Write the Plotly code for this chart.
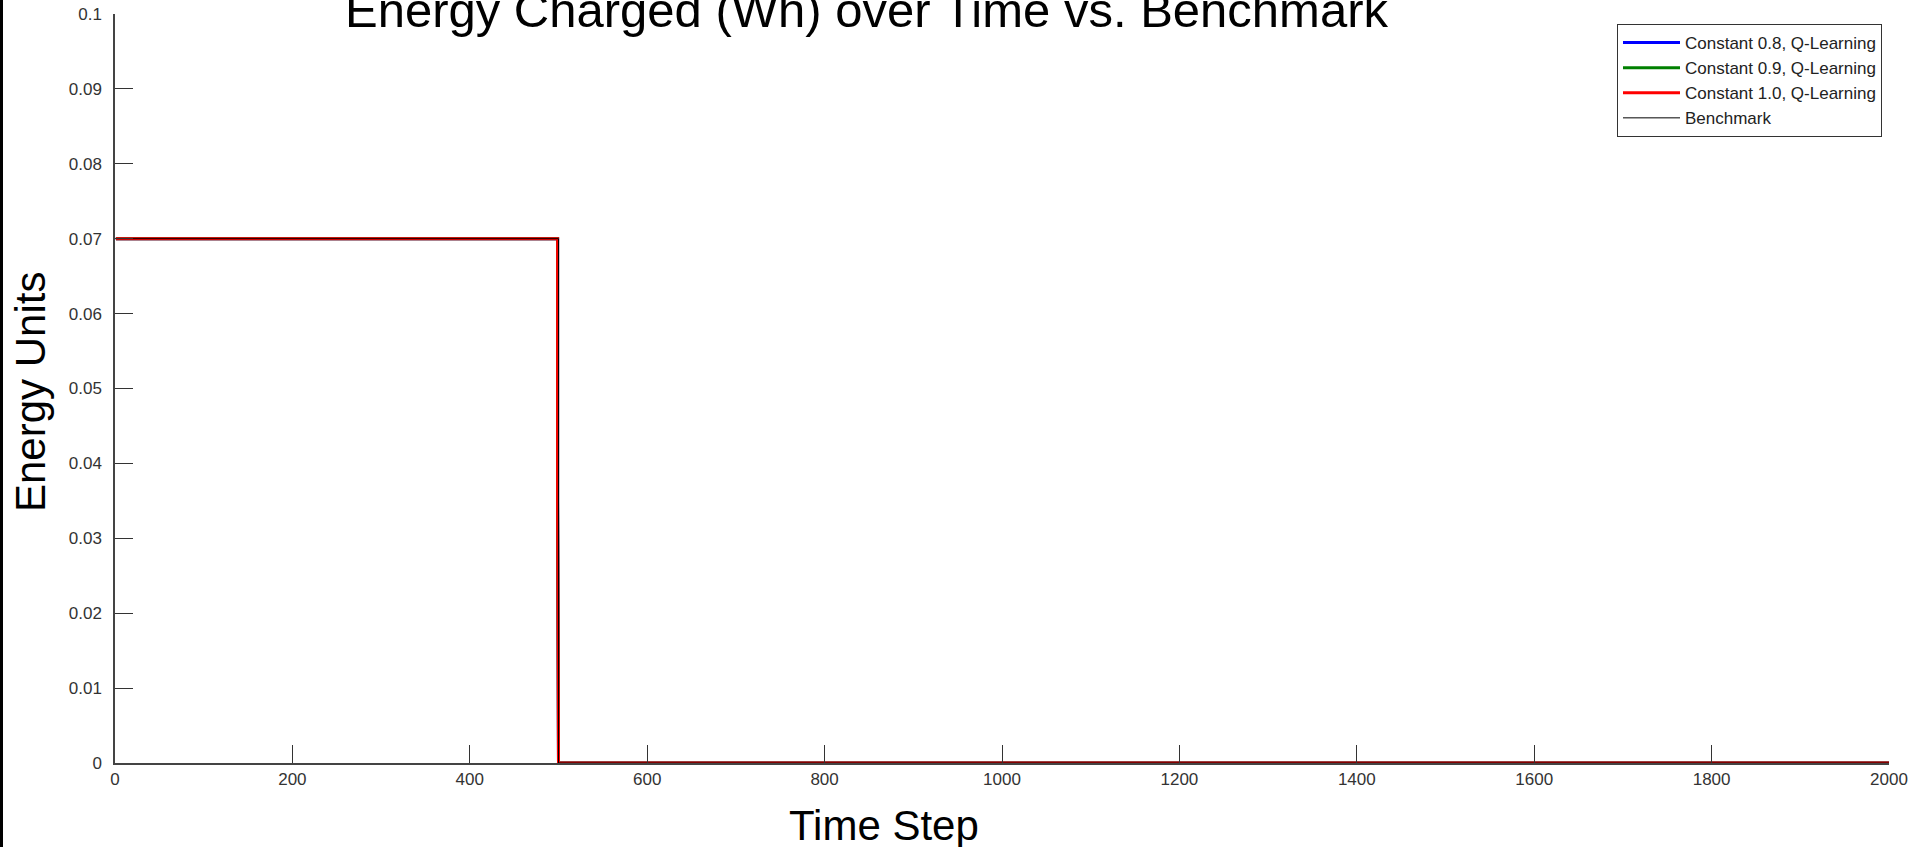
import plotly.graph_objects as go

# Data (breakpoints)
ql_time = [1, 499, 499, 500, 2000]
ql_energy = [0.07, 0.07, 0.035, 0.0, 0.0]
bench_time = [1, 500, 500, 2000]
bench_energy = [0.07, 0.07, 0.0, 0.0]

series_names = ["Constant 0.8, Q-Learning", "Constant 0.9, Q-Learning", "Constant 1.0, Q-Learning"]
series_colors = ["#0000ff", "#008000", "#ff0000"]

x_ticks = [0, 200, 400, 600, 800, 1000, 1200, 1400, 1600, 1800, 2000]
y_ticks = [0, 0.01, 0.02, 0.03, 0.04, 0.05, 0.06, 0.07, 0.08, 0.09, 0.1]
y_tick_text = ["0", "0.01", "0.02", "0.03", "0.04", "0.05", "0.06", "0.07", "0.08", "0.09", "0.1"]

W, H = 1909, 847
L, R, T, B = 115, 20, 14, 84
pw, ph = W - L - R, H - T - B

fig = go.Figure()
for name, color in zip(series_names, series_colors):
    fig.add_trace(go.Scatter(x=ql_time, y=ql_energy, mode="lines", name=name,
                             line=dict(color=color, width=3)))
fig.add_trace(go.Scatter(x=bench_time, y=bench_energy, mode="lines", name="Benchmark",
                         line=dict(color="#000000", width=1)))

font_family = "Liberation Sans, Arial, sans-serif"

fig.update_layout(
    width=W, height=H,
    margin=dict(l=L, r=R, t=T, b=B, pad=0, autoexpand=False),
    paper_bgcolor="white", plot_bgcolor="white",
    font=dict(family=font_family, color="#222222"),
    showlegend=True,
    legend=dict(x=(1882 - L) / pw, xref="paper", xanchor="right",
                y=(H - B - 24) / ph, yref="paper", yanchor="top",
                bgcolor="white", bordercolor="#333333", borderwidth=1,
                font=dict(size=17, family=font_family, color="#222222"),
                tracegroupgap=0, itemwidth=57),
    xaxis=dict(range=[0, 2000], tickvals=x_ticks, ticks="inside", ticklen=18,
               tickcolor="#333333", showline=True, linecolor="#444444", linewidth=1.5,
               showgrid=False, zeroline=False, tickfont=dict(size=17, color="#333333")),
    yaxis=dict(range=[0, 0.1], tickvals=y_ticks, ticktext=y_tick_text, ticks="inside",
               ticklen=18, tickcolor="#333333", showline=True, linecolor="#444444",
               linewidth=1.5, showgrid=False, zeroline=False, ticklabelstandoff=8,
               tickfont=dict(size=17, color="#333333")),
)

# chart title (top partly cut off, as in the reference)
fig.add_annotation(text="Energy Charged (Wh) over Time vs. Benchmark",
                   xref="paper", yref="paper",
                   x=(866 - L) / pw, y=(H - B - 10) / ph,
                   xanchor="center", yanchor="middle", showarrow=False,
                   font=dict(size=49, color="#000000", family=font_family))

# x-axis title
fig.add_annotation(text="Time Step", xref="paper", yref="paper",
                   x=(884 - L) / pw, y=-(826 - (H - B)) / ph,
                   xanchor="center", yanchor="middle", showarrow=False,
                   font=dict(size=42, color="#000000", family=font_family))

# y-axis title
fig.add_annotation(text="Energy Units", xref="paper", yref="paper",
                   x=(30 - L) / pw, y=(H - B - 392) / ph, textangle=-90,
                   xanchor="center", yanchor="middle", showarrow=False,
                   font=dict(size=42, color="#000000", family=font_family))

# black border strip at the left edge of the figure
fig.add_shape(type="rect", xref="paper", yref="paper",
              x0=-L / pw, x1=(3 - L) / pw, y0=-B / ph, y1=(H - B) / ph,
              fillcolor="black", line=dict(width=0), layer="above")

fig.write_html("out.html")
